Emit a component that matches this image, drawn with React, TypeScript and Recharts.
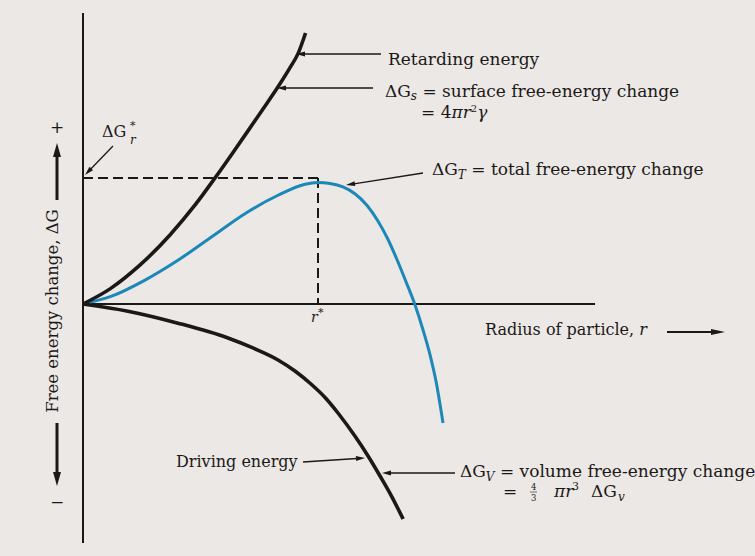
import { ComposedChart, Line, XAxis, YAxis, ReferenceLine } from "recharts"

// radius r in units of r*, free energy in units of the barrier height ΔG*
const surfaceRadius = [0, 0.115, 0.243, 0.37, 0.477, 0.562, 0.634, 0.702, 0.766, 0.83, 0.881, 0.915, 0.947]
const surfaceEnergy = [0, 0.12, 0.31, 0.548, 0.786, 1.001, 1.191, 1.374, 1.548, 1.724, 1.876, 1.987, 2.151]

const volumeRadius = [0, 0.191, 0.404, 0.617, 0.723, 0.83, 0.902, 0.97, 1.03, 1.085, 1.157, 1.213, 1.264, 1.315, 1.362]
const volumeEnergy = [
    0, -0.057, -0.152, -0.27, -0.349, -0.444, -0.532, -0.635, -0.742, -0.865, -1.048, -1.206, -1.365, -1.532, -1.706,
]

const totalRadius = [
    0, 0.119, 0.264, 0.404, 0.545, 0.689, 0.83, 0.945, 1.0, 1.051, 1.106, 1.157, 1.209, 1.255, 1.298, 1.336, 1.374,
    1.413, 1.447, 1.477, 1.502, 1.532,
]
const totalEnergy = [
    0, 0.06, 0.19, 0.347, 0.53, 0.717, 0.863, 0.951, 0.964, 0.956, 0.929, 0.875, 0.782, 0.659, 0.512, 0.353, 0.179,
    -0.008, -0.206, -0.405, -0.611, -0.944,
]

const criticalRadius = 1
const barrierHeight = 1
const energyAxisRange = [-1.897, 2.31]
const radiusAxisEnd = 2.179

const toPoints = (rs: number[], gs: number[]) => rs.map((r, i) => ({ r, g: gs[i] }))

const surfaceData = toPoints(surfaceRadius, surfaceEnergy)
const volumeData = toPoints(volumeRadius, volumeEnergy)
const totalData = toPoints(totalRadius, totalEnergy)

const INK = "#1c1818"
const BLUE = "#1b88b8"
const FONT = "'DejaVu Serif', serif"

type ArrowProps = { x1: number; y1: number; x2: number; y2: number; w?: number; len?: number; half?: number }

// straight line with a filled head at (x2, y2)
const Arrow = ({ x1, y1, x2, y2, w = 1.3, len = 9, half = 2.5 }: ArrowProps) => {
    const dx = x2 - x1
    const dy = y2 - y1
    const d = Math.hypot(dx, dy)
    const ux = dx / d
    const uy = dy / d
    const bx = x2 - ux * len
    const by = y2 - uy * len
    const head = `${x2},${y2} ${bx - uy * half},${by + ux * half} ${bx + uy * half},${by - ux * half}`
    return (
        <g>
            <line x1={x1} y1={y1} x2={bx + ux} y2={by + uy} stroke={INK} strokeWidth={w} />
            <polygon points={head} fill={INK} />
        </g>
    )
}

const Notes = () => (
    <svg width={755} height={556} style={{ position: "absolute", left: 0, top: 0 }}>
        <g fontFamily={FONT} fontSize={17} fill={INK}>
            <text x={388} y={65}>Retarding energy</text>
            <text x={385} y={97}>
                ΔG<tspan fontSize={12} fontStyle="italic" dy={3}>s</tspan>
                <tspan dy={-3}> = surface free-energy change</tspan>
            </text>
            <text x={421} y={118}>
                = 4<tspan fontStyle="italic">πr</tspan>
                <tspan fontSize={10} dy={-6}>2</tspan>
                <tspan fontStyle="italic" dy={6}>γ</tspan>
            </text>
            <text x={432} y={175}>
                ΔG<tspan fontSize={12} fontStyle="italic" dy={4}>T</tspan>
                <tspan dy={-4}> = total free-energy change</tspan>
            </text>
            <text x={102} y={137} fontSize={16}>ΔG</text>
            <text x={130} y={129} fontSize={11}>*</text>
            <text x={130} y={144} fontSize={12} fontStyle="italic">r</text>
            <text x={311} y={322} fontSize={14} fontStyle="italic">r</text>
            <text x={318} y={316} fontSize={11}>*</text>
            <text x={485} y={335} fontSize={16}>
                Radius of particle, <tspan fontStyle="italic">r</tspan>
            </text>
            <text x={176} y={467} fontSize={16}>Driving energy</text>
            <text x={460} y={477}>
                ΔG<tspan fontSize={12} fontStyle="italic" dy={4}>V</tspan>
                <tspan dy={-4}> = volume free-energy change</tspan>
            </text>
            <text x={503} y={497}>=</text>
            <text x={531} y={490} fontSize={8.5}>4</text>
            <text x={531} y={501} fontSize={8.5}>3</text>
            <line x1={530} y1={492} x2={537} y2={492} stroke={INK} strokeWidth={0.6} />
            <text x={554} y={497} fontStyle="italic">πr</text>
            <text x={572} y={490} fontSize={11}>3</text>
            <text x={591} y={497}>ΔG</text>
            <text x={618} y={501} fontSize={12} fontStyle="italic">v</text>
            <text x={57} y={133} textAnchor="middle">+</text>
            <text x={57} y={508} textAnchor="middle">−</text>
            <text transform="translate(58, 311) rotate(-90)" textAnchor="middle" fontSize={16.5}>
                Free energy change, ΔG
            </text>
        </g>
        <Arrow x1={381} y1={54} x2={296} y2={54} />
        <Arrow x1={373} y1={88} x2={277} y2={88} />
        <Arrow x1={423} y1={173} x2={346} y2={185} />
        <Arrow x1={113} y1={146} x2={85} y2={175} />
        <Arrow x1={303} y1={462} x2={365} y2={458} />
        <Arrow x1={455} y1={473} x2={382} y2={473} />
        <Arrow x1={667} y1={332} x2={725} y2={332} w={2} len={14} half={3} />
        <Arrow x1={57} y1={200} x2={57} y2={143} w={3} len={14} half={4} />
        <Arrow x1={57} y1={423} x2={57} y2={486} w={3} len={14} half={4} />
    </svg>
)

export default function App() {
    return (
        <div
            style={{
                position: "absolute",
                left: 0,
                top: 0,
                width: 755,
                height: 556,
                background: "#ebe8e5",
                overflow: "hidden",
            }}
        >
            <div style={{ position: "absolute", left: 0, top: 0 }}>
                <ComposedChart width={755} height={556} margin={{ top: 0, right: 0, bottom: 0, left: 0 }}>
                    <XAxis type="number" dataKey="r" hide domain={[-0.3532, 2.8596]} allowDataOverflow />
                    <YAxis type="number" dataKey="g" hide domain={[-2.0, 2.4127]} allowDataOverflow />
                    <ReferenceLine
                        segment={[{ x: 0, y: energyAxisRange[0] }, { x: 0, y: energyAxisRange[1] }]}
                        stroke={INK}
                        strokeWidth={2}
                        ifOverflow="visible"
                    />
                    <ReferenceLine
                        segment={[{ x: 0, y: 0 }, { x: radiusAxisEnd, y: 0 }]}
                        stroke={INK}
                        strokeWidth={2}
                        ifOverflow="visible"
                    />
                    <ReferenceLine
                        segment={[{ x: 0, y: barrierHeight }, { x: criticalRadius, y: barrierHeight }]}
                        stroke={INK}
                        strokeWidth={2}
                        strokeDasharray="10 5"
                    />
                    <ReferenceLine
                        segment={[{ x: criticalRadius, y: barrierHeight }, { x: criticalRadius, y: 0 }]}
                        stroke={INK}
                        strokeWidth={2}
                        strokeDasharray="10 5"
                    />
                    <Line
                        data={totalData}
                        dataKey="g"
                        type="monotone"
                        stroke={BLUE}
                        strokeWidth={3}
                        dot={false}
                        isAnimationActive={false}
                    />
                    <Line
                        data={volumeData}
                        dataKey="g"
                        type="monotone"
                        stroke={INK}
                        strokeWidth={3.6}
                        dot={false}
                        isAnimationActive={false}
                    />
                    <Line
                        data={surfaceData}
                        dataKey="g"
                        type="monotone"
                        stroke={INK}
                        strokeWidth={3.6}
                        dot={false}
                        isAnimationActive={false}
                    />
                </ComposedChart>
            </div>
            <Notes />
        </div>
    )
}
